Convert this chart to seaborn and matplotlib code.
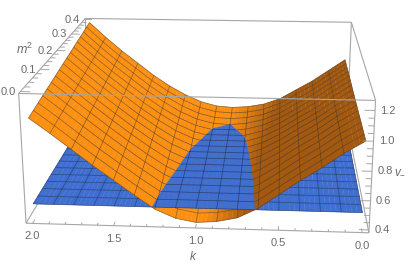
# 3D dispersion surface against a flat plane, mesh drawn by hand to get the Mathematica look
import numpy as np
import seaborn as sns
import matplotlib
matplotlib.use("Agg")
import matplotlib.pyplot as plt
from mpl_toolkits.mplot3d import proj3d
from mpl_toolkits.mplot3d.art3d import Poly3DCollection, Line3DCollection

# =========================
# Data
# =========================
k_vals = [2.0, 1.875, 1.75, 1.625, 1.5, 1.375, 1.25, 1.125, 1.0, 0.875, 0.75, 0.625, 0.5, 0.375, 0.25, 0.125, 0.0]
m2_vals = [0.0, 0.025, 0.05, 0.075, 0.1, 0.125, 0.15, 0.175, 0.2, 0.225, 0.25, 0.275, 0.3, 0.325, 0.35, 0.375, 0.4]

# one row per m2, one column per k
v_surface = [
    [1.090, 0.990, 0.885, 0.780, 0.680, 0.580, 0.485, 0.425, 0.400, 0.410, 0.440, 0.510, 0.610, 0.710, 0.800, 0.900, 0.985],
    [1.099, 0.998, 0.892, 0.787, 0.687, 0.588, 0.494, 0.434, 0.408, 0.417, 0.446, 0.513, 0.610, 0.708, 0.798, 0.898, 0.983],
    [1.109, 1.006, 0.899, 0.794, 0.694, 0.595, 0.503, 0.443, 0.416, 0.424, 0.451, 0.516, 0.609, 0.707, 0.796, 0.896, 0.981],
    [1.118, 1.013, 0.907, 0.802, 0.701, 0.603, 0.511, 0.451, 0.424, 0.431, 0.457, 0.518, 0.609, 0.705, 0.793, 0.893, 0.979],
    [1.128, 1.021, 0.914, 0.809, 0.708, 0.610, 0.520, 0.460, 0.433, 0.438, 0.462, 0.521, 0.609, 0.704, 0.791, 0.891, 0.977],
    [1.137, 1.029, 0.921, 0.816, 0.714, 0.618, 0.529, 0.469, 0.441, 0.444, 0.468, 0.524, 0.608, 0.702, 0.789, 0.889, 0.975],
    [1.146, 1.037, 0.928, 0.823, 0.721, 0.625, 0.538, 0.478, 0.449, 0.451, 0.474, 0.527, 0.608, 0.701, 0.787, 0.887, 0.973],
    [1.156, 1.045, 0.935, 0.830, 0.728, 0.633, 0.546, 0.486, 0.457, 0.458, 0.479, 0.530, 0.608, 0.699, 0.785, 0.884, 0.971],
    [1.165, 1.053, 0.943, 0.838, 0.735, 0.640, 0.555, 0.495, 0.465, 0.465, 0.485, 0.533, 0.608, 0.698, 0.783, 0.881, 0.969],
    [1.174, 1.060, 0.950, 0.845, 0.742, 0.648, 0.564, 0.504, 0.473, 0.472, 0.491, 0.535, 0.607, 0.696, 0.780, 0.878, 0.967],
    [1.184, 1.068, 0.957, 0.852, 0.749, 0.655, 0.573, 0.513, 0.481, 0.479, 0.496, 0.538, 0.607, 0.694, 0.778, 0.875, 0.966],
    [1.193, 1.076, 0.964, 0.859, 0.756, 0.663, 0.581, 0.521, 0.489, 0.486, 0.502, 0.541, 0.607, 0.693, 0.776, 0.873, 0.965],
    [1.203, 1.084, 0.971, 0.866, 0.763, 0.670, 0.590, 0.530, 0.498, 0.493, 0.508, 0.544, 0.606, 0.691, 0.774, 0.870, 0.964],
    [1.212, 1.092, 0.978, 0.873, 0.769, 0.678, 0.599, 0.539, 0.506, 0.499, 0.513, 0.547, 0.606, 0.690, 0.772, 0.868, 0.962],
    [1.221, 1.099, 0.986, 0.881, 0.776, 0.685, 0.608, 0.548, 0.514, 0.506, 0.519, 0.549, 0.606, 0.688, 0.769, 0.865, 0.959],
    [1.231, 1.107, 0.993, 0.888, 0.783, 0.693, 0.616, 0.556, 0.522, 0.513, 0.524, 0.552, 0.605, 0.687, 0.767, 0.862, 0.957],
    [1.240, 1.115, 1.000, 0.895, 0.790, 0.700, 0.625, 0.565, 0.530, 0.520, 0.530, 0.555, 0.605, 0.685, 0.765, 0.860, 0.955],
]
v_plane = 0.5

k_ticks = [2.0, 1.5, 1.0, 0.5, 0.0]
m2_ticks = [0.0, 0.1, 0.2, 0.3, 0.4]
v_ticks = [0.4, 0.6, 0.8, 1.0, 1.2]
k_minor = np.arange(0, 2.01, 0.1)
m2_minor = np.arange(0, 0.401, 0.02)
v_minor = np.arange(0.4, 1.201, 0.05)

k_lim = (2.04, -0.04)
m2_lim = (-0.008, 0.408)
v_lim = (0.38, 1.265)

BOX = "#a6a6a6"
TXT = "#6b6b6b"
SUB = 4  # facets per mesh cell, only so the shading runs smoothly

sns.set_theme(style="white")
plt.rcParams["font.family"] = ["Liberation Sans", "DejaVu Sans"]
plt.rcParams["mathtext.fontset"] = "custom"
plt.rcParams["mathtext.it"] = "Liberation Sans:italic"
plt.rcParams["mathtext.rm"] = "Liberation Sans"

orange_map = sns.blend_palette(["#a5590e", "#ff9112"], n_colors=64, as_cmap=True)


# =========================
# Split helpers
# =========================
def clip_poly(poly, level, above):
    sign = 1 if above else -1
    out = []
    for a, b in zip(poly, poly[1:] + poly[:1]):
        da = sign * (a[2] - level)
        db = sign * (b[2] - level)
        if da >= 0:
            out.append(a)
        if da * db < 0:
            t = da / (da - db)
            out.append(tuple(a[n] + t * (b[n] - a[n]) for n in range(3)))
    return out


def clip_seg(a, b, level, above):
    sign = 1 if above else -1
    da = sign * (a[2] - level)
    db = sign * (b[2] - level)
    if da < 0 and db < 0:
        return None
    if da >= 0 and db >= 0:
        return [a, b]
    t = da / (da - db)
    c = tuple(a[n] + t * (b[n] - a[n]) for n in range(3))
    return [a, c] if da >= 0 else [c, b]


def cell_polys(v):
    # facets of every cell, with the light value at each facet
    slope = np.gradient(v, np.array(k_vals), axis=1)
    polys = []
    light = []
    for j in range(len(m2_vals) - 1):
        for i in range(len(k_vals) - 1):
            for n in range(SUB):
                t0, t1 = n / SUB, (n + 1) / SUB
                k0 = k_vals[i] + t0 * (k_vals[i + 1] - k_vals[i])
                k1 = k_vals[i] + t1 * (k_vals[i + 1] - k_vals[i])
                a0 = v[j, i] + t0 * (v[j, i + 1] - v[j, i])
                a1 = v[j, i] + t1 * (v[j, i + 1] - v[j, i])
                b0 = v[j + 1, i] + t0 * (v[j + 1, i + 1] - v[j + 1, i])
                b1 = v[j + 1, i] + t1 * (v[j + 1, i + 1] - v[j + 1, i])
                polys.append([(k0, m2_vals[j], a0), (k1, m2_vals[j], a1),
                              (k1, m2_vals[j + 1], b1), (k0, m2_vals[j + 1], b0)])
                tc = (t0 + t1) / 2
                s = (slope[j, i] + slope[j + 1, i]) / 2 * (1 - tc) + (slope[j, i + 1] + slope[j + 1, i + 1]) / 2 * tc
                lit = (s + 0.5) / 0.5
                # the lighter band along the k = 0 side
                kc = (k0 + k1) / 2
                front = min(1.0, (0.4 - m2_vals[j]) / 0.2)
                lit += 0.4 * max(0.0, (0.2 - kc) / 0.2) * front
                light.append(float(np.clip(lit, 0, 1)))
    return polys, light


def mesh_segs(v):
    segs = []
    for j in range(len(m2_vals)):
        for i in range(len(k_vals) - 1):
            segs.append(((k_vals[i], m2_vals[j], v[j, i]), (k_vals[i + 1], m2_vals[j], v[j, i + 1])))
    for i in range(len(k_vals)):
        for j in range(len(m2_vals) - 1):
            segs.append(((k_vals[i], m2_vals[j], v[j, i]), (k_vals[i], m2_vals[j + 1], v[j + 1, i])))
    return segs


def add_faces(ax, polys, colors, z):
    col = Poly3DCollection(polys, facecolors=colors, edgecolors=colors, linewidths=0.25)
    col.set_zorder(z)
    ax.add_collection3d(col, autolim=False)


def add_mesh(ax, segs, color, z, lw=0.55):
    col = Line3DCollection(segs, colors=color, linewidths=lw)
    col.set_zorder(z)
    ax.add_collection3d(col, autolim=False)


def label3d(ax, x, y, z, text, dx, dy, size=8):
    # Projected by hand so the text can sit a fixed number of pixels off its tick
    xp, yp, _ = proj3d.proj_transform(x, y, z, ax.get_proj())
    ax.annotate(text, (xp, yp), xytext=(dx, dy), textcoords="offset pixels",
                color=TXT, fontsize=size, ha="center", va="center", zorder=10)


# =========================
# Plot
# =========================
def main():
    v = np.array(v_surface)
    plane = np.full_like(v, v_plane)

    fig = plt.figure(figsize=(4.09, 2.8), dpi=100)
    ax = fig.add_subplot(projection="3d", computed_zorder=False)
    ax.set_position([-0.03589, -0.1908, 1.05906, 1.54699])
    ax.set_axis_off()
    ax.set_xlim(*k_lim)
    ax.set_ylim(*m2_lim)
    ax.set_zlim(*v_lim)
    ax.view_init(elev=17.1124, azim=-86.026, roll=0.0104)
    ax.set_proj_type("persp", focal_length=0.4352)
    ax.set_box_aspect((1, 1.0246, 0.3970))

    polys, light = cell_polys(v)
    shade = [orange_map(x) for x in light]

    low_p, low_c, high_p, high_c = [], [], [], []
    for p, c in zip(polys, shade):
        lo = clip_poly(p, v_plane, False)
        hi = clip_poly(p, v_plane, True)
        if len(lo) > 2:
            low_p.append(lo)
            low_c.append(c)
        if len(hi) > 2:
            high_p.append(hi)
            high_c.append(c)

    segs = mesh_segs(v)
    low_s = [s for s in (clip_seg(a, b, v_plane, False) for a, b in segs) if s]
    high_s = [s for s in (clip_seg(a, b, v_plane, True) for a, b in segs) if s]

    # layered by hand: under the plane, the plane, over the plane
    mesh_orange = (0.25, 0.2, 0.15, 0.55)
    add_faces(ax, low_p, low_c, 2)
    add_mesh(ax, low_s, mesh_orange, 3)
    plane_polys, _ = cell_polys(plane)
    add_faces(ax, plane_polys, ["#3f6fd0"] * len(plane_polys), 4)
    add_mesh(ax, mesh_segs(plane), (0.1, 0.15, 0.3, 0.6), 5)
    add_faces(ax, high_p, high_c, 6)
    add_mesh(ax, high_s, mesh_orange, 7)

    # box
    k0, k1 = k_lim
    m0, m1 = m2_lim
    v0, v1 = v_lim
    back = [
        ((k0, m1, v1), (k1, m1, v1)), ((k1, m1, v1), (k1, m1, v0)), ((k0, m1, v1), (k0, m1, v0)),
        ((k0, m1, v0), (k1, m1, v0)), ((k0, m0, v0), (k0, m1, v0)), ((k1, m0, v0), (k1, m1, v0)),
    ]
    front = [
        ((k0, m0, v1), (k1, m0, v1)), ((k0, m0, v0), (k1, m0, v0)), ((k0, m0, v0), (k0, m0, v1)),
        ((k1, m0, v0), (k1, m0, v1)), ((k0, m0, v1), (k0, m1, v1)), ((k1, m0, v1), (k1, m1, v1)),
    ]
    add_mesh(ax, back, BOX, 1, lw=0.8)
    add_mesh(ax, front, BOX, 9, lw=0.8)

    # ticks
    ticks = []
    for t in k_minor:
        ln = 0.012 if np.any(np.isclose(t, k_ticks)) else 0.007
        ticks.append(((t, m0, v0), (t, m0 + ln, v0)))
    for t in m2_minor:
        ln = 0.06 if np.any(np.isclose(t, m2_ticks)) else 0.035
        ticks.append(((k0, t, v1), (k0 - ln, t, v1)))
    for t in v_minor:
        ln = 0.06 if np.any(np.isclose(t, v_ticks)) else 0.035
        ticks.append(((k1, m0, t), (k1 + ln, m0, t)))
    add_mesh(ax, ticks, BOX, 9, lw=0.7)

    for t in k_ticks:
        label3d(ax, t, m0, v0, f"{t:.1f}", 0, -13)
    for t in m2_ticks:
        label3d(ax, k0, t, v1, f"{t:.1f}", -12, 0)
    for t in v_ticks:
        label3d(ax, k1, m0, t, f"{t:.1f}", 13, 0)
    label3d(ax, 1.0, m0, v0, "$k$", -2, -29, size=8.5)
    label3d(ax, k0, 0.2, v1, "$m^2$", -32, 1, size=9)
    label3d(ax, k1, m0, 0.8, "$v_{-}$", 28, 0, size=8.5)

    fig.savefig("out.png", dpi=100)


if __name__ == "__main__":
    main()
